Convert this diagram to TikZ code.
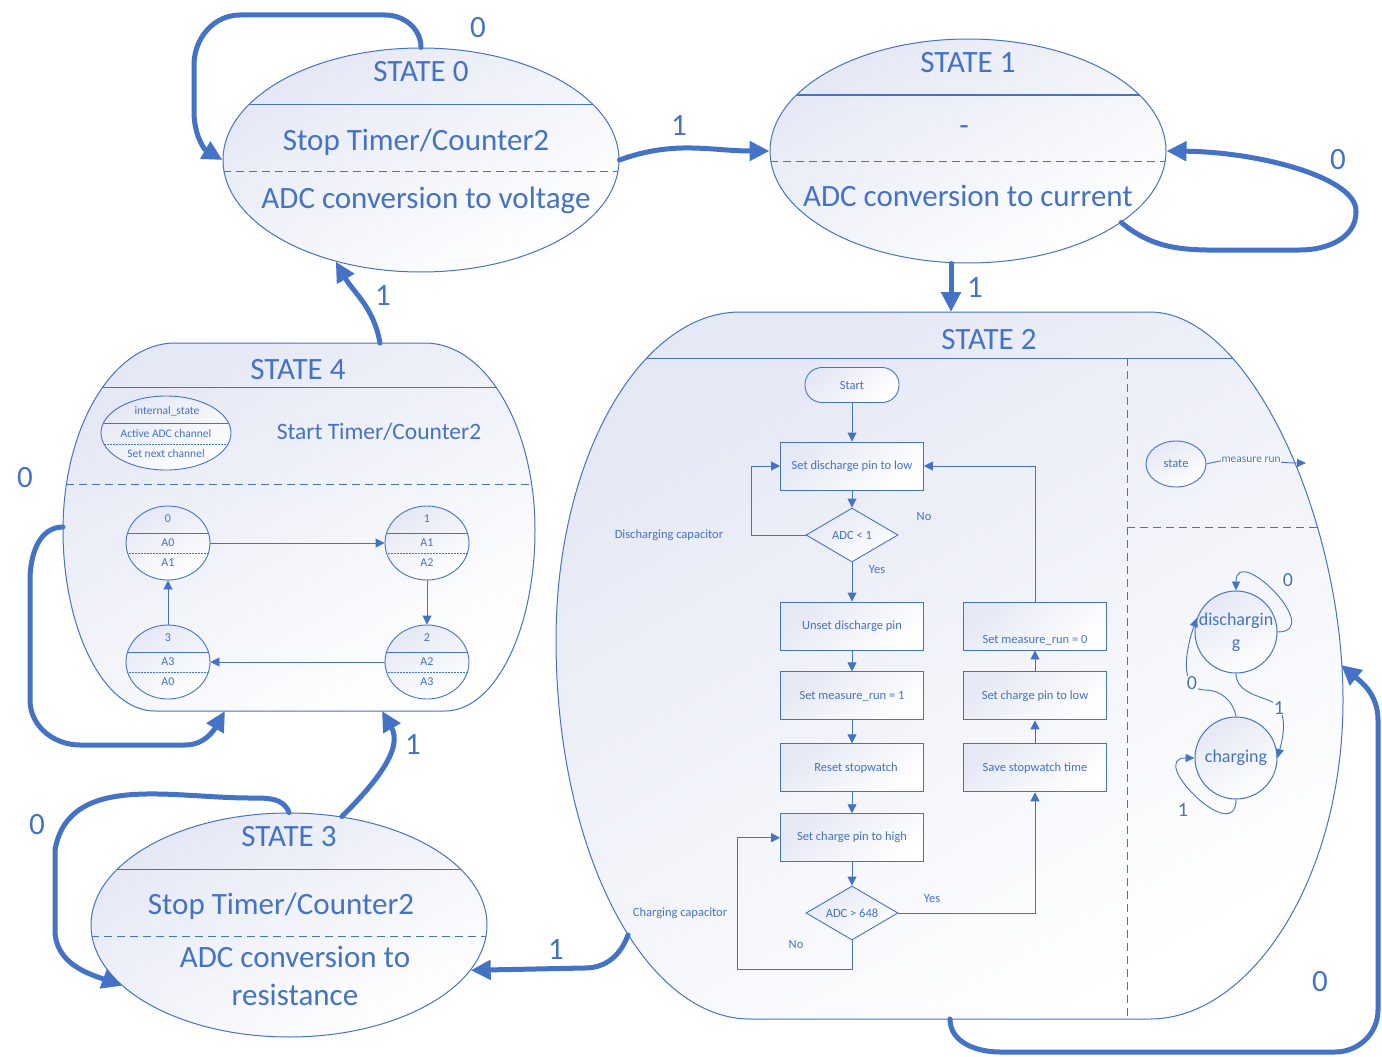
\documentclass[tikz,border=0pt]{standalone}
\usepackage{fontspec}
\setmainfont{Carlito}
\usetikzlibrary{arrows.meta,shapes.geometric,positioning}

\definecolor{stblue}{RGB}{68,114,196}
\definecolor{stfill}{RGB}{229,232,245}

\newcommand\hugetext{\fontsize{31}{36}\selectfont}
\newcommand\midtext{\fontsize{23.5}{28}\selectfont}
\newcommand\circtext{\fontsize{18}{23}\selectfont}
\newcommand\flowtext{\fontsize{12.5}{15}\selectfont}
\newcommand\chantext{\fontsize{12}{14}\selectfont}
\newcommand\tinytext{\fontsize{11.5}{14}\selectfont}

% outlines of state 2 and state 4
\newcommand\statetwopath{(740,312) -- (1150,312) .. controls (1250,312) and (1343,520) .. (1343,700) .. controls (1343,880) and (1250,1019) .. (1150,1019) -- (750,1019) .. controls (643,1019) and (556,849) .. (556,640) .. controls (556,459) and (640,312) .. cycle}
\newcommand\statefourpath{(175,343) -- (425,343) .. controls (486,343) and (535,427) .. (535,530) .. controls (535,630) and (495,711) .. (445,711) -- (155,711) .. controls (104,711) and (63,630) .. (63,530) .. controls (63,427) and (113,343) .. cycle}

\tikzset{
    shadefill/.style={top color=stfill,bottom color=white,shading angle=30},
    outline/.style={draw=stblue,line width=1pt},
    bigdash/.style={dash pattern=on 8pt off 5pt},
    bigstate/.style 2 args={ellipse,outline,shadefill,inner sep=0pt,minimum width=396pt,minimum height=224pt,
        path picture={
            \draw[outline] ([yshift=#1]path picture bounding box.west) -- ([yshift=#1]path picture bounding box.east);
            \draw[outline,bigdash] ([yshift=#2]path picture bounding box.west) -- ([yshift=#2]path picture bounding box.east);
        }},
    splitoval/.style 2 args={ellipse,outline,line width=0.9pt,shadefill,inner sep=0pt,
        path picture={
            \draw[outline,line width=0.9pt] ([yshift=#1]path picture bounding box.west) -- ([yshift=#1]path picture bounding box.east);
            \draw[outline,line width=0.9pt,dash pattern=on 1.5pt off 1.5pt] ([yshift=#2]path picture bounding box.west) -- ([yshift=#2]path picture bounding box.east);
        }},
    flowbox/.style={rectangle,outline,line width=0.9pt,top color=stfill,bottom color=white,shading angle=40,
        minimum width=143pt,minimum height=48pt,inner sep=1pt,font=\flowtext},
    flowstart/.style={flowbox,rounded corners=17pt,minimum width=94pt,minimum height=35pt},
    flowtest/.style={diamond,outline,line width=0.9pt,shadefill,aspect=1.7,minimum width=92pt,minimum height=54pt,inner sep=0pt,font=\flowtext},
    flow/.style={draw=stblue,line width=0.9pt,-{Triangle[length=9pt,width=9pt]}},
    trans/.style={draw=stblue,line width=5pt,line cap=round,-{Triangle[length=20pt,width=19pt]}},
    translabel/.style={font=\hugetext,inner sep=0pt},
    modecirc/.style={circle,outline,shadefill,minimum size=82pt,inner sep=0pt,font=\circtext},
    modearrow/.style={draw=stblue,line width=0.9pt,-{Triangle[length=9pt,width=8pt]}},
    modelabel/.style={font=\fontsize{20}{24}\selectfont,fill=white,inner sep=0.5pt},
}

\begin{document}
\begin{tikzpicture}[x=1pt,y=-1pt,text=stblue]
    \useasboundingbox (0,0) rectangle (1382,1057);

    % state 2 body
    \path[shadefill] \statetwopath;
    \begin{scope}
        \clip \statetwopath;
        \draw[outline] (540,358) -- (1360,358);
        \draw[outline,bigdash] (1127,358) -- (1127,1019);
        \draw[outline,bigdash] (1127,527) -- (1360,527);
    \end{scope}
    \draw[outline] \statetwopath;
    \node[font=\hugetext] (st2name) at (989,340) {STATE 2};
    \coordinate (s2top) at (951,312);
    \coordinate (s2w) at (628,935);
    \coordinate (s2b) at (950,1019);
    \coordinate (s2e) at (1341,665);

    % state 4 body
    \path[shadefill] \statefourpath;
    \begin{scope}
        \clip \statefourpath;
        \draw[outline] (40,387) -- (560,387);
        \draw[outline,bigdash] (40,484) -- (560,484);
    \end{scope}
    \draw[outline] \statefourpath;
    \node[font=\hugetext] (st4name) at (298,370) {STATE 4};
    \node[font=\midtext] (st4task) at (379,432) {Start Timer/Counter2};
    \coordinate (s4t) at (380,343);
    \coordinate (s4b) at (382,711);
    \coordinate (s4w) at (63,527);
    \coordinate (s4bl) at (225,711);

    % internal state legend
    \node[splitoval={10pt}{-11pt},minimum width=130pt,minimum height=74pt] (legend) at (166,433) {};
    \node[font=\tinytext] (legendname) at (167,411) {internal\_state};
    \node[font=\tinytext] (legendup) at (166,434) {Active ADC channel};
    \node[font=\tinytext] (legenddn) at (166,454) {Set next channel};

    % channel states
    \foreach \n/\cx/\cy/\up/\dn in {0/168/543/A0/A1,1/427/543/A1/A2,2/427/662/A2/A3,3/168/662/A3/A0} {
        \node[splitoval={10pt}{-10pt},minimum width=84pt,minimum height=74pt] (ch\n) at (\cx,\cy) {};
        \node[font=\chantext] (ch\n num) at (\cx,\cy-24) {\n};
        \node[font=\chantext] (ch\n up) at (\cx,\cy) {\up};
        \node[font=\chantext] (ch\n dn) at (\cx,\cy+20) {\dn};
    }
    \draw[flow] (ch0) -- (ch1);
    \draw[flow] (ch1) -- (ch2);
    \draw[flow] (ch2) -- (ch3);
    \draw[flow] (ch3) -- (ch0);

    % state 0, 1, 3
    \node[bigstate={56pt}{-11pt}] (st0) at (421,160) {};
    \node[font=\hugetext] (st0name) at (421,72) {STATE 0};
    \node[font=\hugetext] (st0task) at (416,142) {Stop Timer/Counter2};
    \node[font=\hugetext] (st0conv) at (426,200) {ADC conversion to voltage};

    \node[bigstate={56pt}{-10pt}] (st1) at (968,151) {};
    \node[font=\hugetext] (st1name) at (968,63) {STATE 1};
    \node[font=\hugetext] (st1task) at (964,131) {-};
    \node[font=\hugetext] (st1conv) at (968,196) {ADC conversion to current};

    \node[bigstate={56pt}{-11pt}] (st3) at (289,925) {};
    \node[font=\hugetext] (st3name) at (289,837) {STATE 3};
    \node[font=\hugetext] (st3task) at (281,906) {Stop Timer/Counter2};
    \node[font=\hugetext] (st3conv) at (295,957) {ADC conversion to};
    \node[font=\hugetext] (st3conv2) at (295,995) {resistance};

    % flowchart of state 2
    \node[flowstart] (start) at (852,385) {Start};
    \node[flowbox] (dis) at (852,466) {Set discharge pin to low};
    \node[flowtest] (adc1) at (852,535) {ADC < 1};
    \node[flowbox] (unset) at (852,626) {Unset discharge pin};
    \node[flowbox,below=21pt of unset] (run1) {Set measure\_run = 1};
    \node[flowbox,below=23pt of run1] (reset) {\hspace{8pt}Reset stopwatch};
    \node[flowbox,below=21pt of reset] (high) {Set charge pin to high};
    \node[flowtest] (adc2) at (852,913) {ADC > 648};
    \node[flowbox] (set0) at (1035,626) {};
    \node[font=\flowtext] (set0txt) at (1035,640) {Set measure\_run = 0};
    \node[flowbox,below=21pt of set0] (low) {Set charge pin to low};
    \node[flowbox,below=23pt of low] (save) {Save stopwatch time};
    \coordinate (nobend) at (737,969);

    \draw[flow] (start) -- (dis);
    \draw[flow] (dis) -- (adc1);
    \draw[flow] (adc1.west) -- ++(-54,0) |- (dis.west);
    \draw[flow] (adc1) -- (unset);
    \draw[flow] (unset) -- (run1);
    \draw[flow] (run1) -- (reset);
    \draw[flow] (reset) -- (high);
    \draw[flow] (high) -- (adc2);
    \draw[flow] (adc2.east) -| (save.south);
    \draw[flow] (adc2.south) |- (nobend) |- (high.west);
    \draw[flow] (save) -- (low);
    \draw[flow] (low) -- (set0);
    \draw[flow] (set0.north) |- (dis.east);

    \node[font=\flowtext] (no1) at (924,517) {No};
    \node[font=\flowtext] (yes1) at (877,570) {Yes};
    \node[font=\flowtext] (yes2) at (932,899) {Yes};
    \node[font=\flowtext] (no2) at (796,945) {No};
    \node[font=\flowtext] (discap) at (669,535) {Discharging capacitor};
    \node[font=\flowtext] (chgcap) at (680,913) {Charging capacitor};

    % measure state machine
    \node[ellipse,outline,line width=0.9pt,shadefill,minimum width=60pt,minimum height=46pt,inner sep=0pt,font=\flowtext] (mstate) at (1176,464) {state};
    \coordinate (mrun) at (1306,463);
    \draw[modearrow] (mstate.east) to[out=15,in=180] node[pos=0.45,fill=white,inner sep=0.5pt,font=\tinytext] (mrunlbl) {measure run} (mrun);

    \node[modecirc,align=center] (dchg) at (1236,632) {\makebox[0pt]{dischargin}\\\makebox[0pt]{g}};
    \node[modecirc] (chg) at (1236,758) {charging};
    \draw[modearrow] (dchg.east) to[out=0,in=90,looseness=2.1] (dchg.north);
    \draw[modearrow] (dchg.south) to[out=-90,in=160] (1268,700) to[out=-20,in=75] (chg.east);
    \draw[modearrow] (chg.north) to[out=100,in=0] (1205,690) to[out=180,in=-110] (dchg.160);
    \draw[modearrow] (chg.south) to[out=-90,in=180,looseness=2.1] (chg.west);
    \node[modelabel] (dd) at (1288,580) {0};
    \node[modelabel] (dc) at (1279,708) {1};
    \node[modelabel] (cd) at (1192,683) {0};
    \node[modelabel] (cc) at (1183,810) {1};

    % transitions between states
    \draw[trans] (st0.north) to[out=90,in=0] (385,15) -- (240,15) to[out=180,in=90] (194,65) -- (194,112) to[out=-90,in=150] (st0.west);
    \draw[trans] (st0.east) to[out=20,in=180] (st1.west);
    \draw[trans] (st1.-25) to[out=-40,in=180] (1240,250) -- (1300,250) to[out=0,in=-90] (1356,212) .. controls (1358,178) and (1260,152) .. (st1.east);
    \draw[trans] ([xshift=-17pt]st1.south) -- (s2top);
    \draw[trans] (s2w) to[out=-110,in=0] (585,968) -- (st3.-14);
    \draw[trans] (s2b) to[out=-90,in=180] (1000,1052) -- (1335,1052) to[out=0,in=-90] (1378,1010) -- (1378,720) to[out=90,in=-40] (s2e);
    \draw[trans] (st3.north) to[out=110,in=0] (250,798) to[out=180,in=80] (55,850) -- (55,930) to[out=-90,in=160] (st3.200);
    \draw[trans] (st3.64) to[out=45,in=-60] (s4b);
    \draw[trans] (s4t) to[out=100,in=-60] (st0.-130);
    \draw[trans] (s4w) to[out=180,in=90] (30,580) -- (30,700) to[out=-90,in=180] (80,745) -- (185,745) to[out=0,in=-120] (s4bl);

    \node[translabel] (l00) at (478,28) {0};
    \node[translabel] (l01) at (679,126) {1};
    \node[translabel] (l11) at (1338,160) {0};
    \node[translabel] (l12) at (975,288) {1};
    \node[translabel] (l40) at (383,296) {1};
    \node[translabel] (l44) at (25,478) {0};
    \node[translabel] (l34) at (413,745) {1};
    \node[translabel] (l33) at (37,825) {0};
    \node[translabel] (l23) at (556,950) {1};
    \node[translabel] (l22) at (1320,982) {0};
\end{tikzpicture}
\end{document}
